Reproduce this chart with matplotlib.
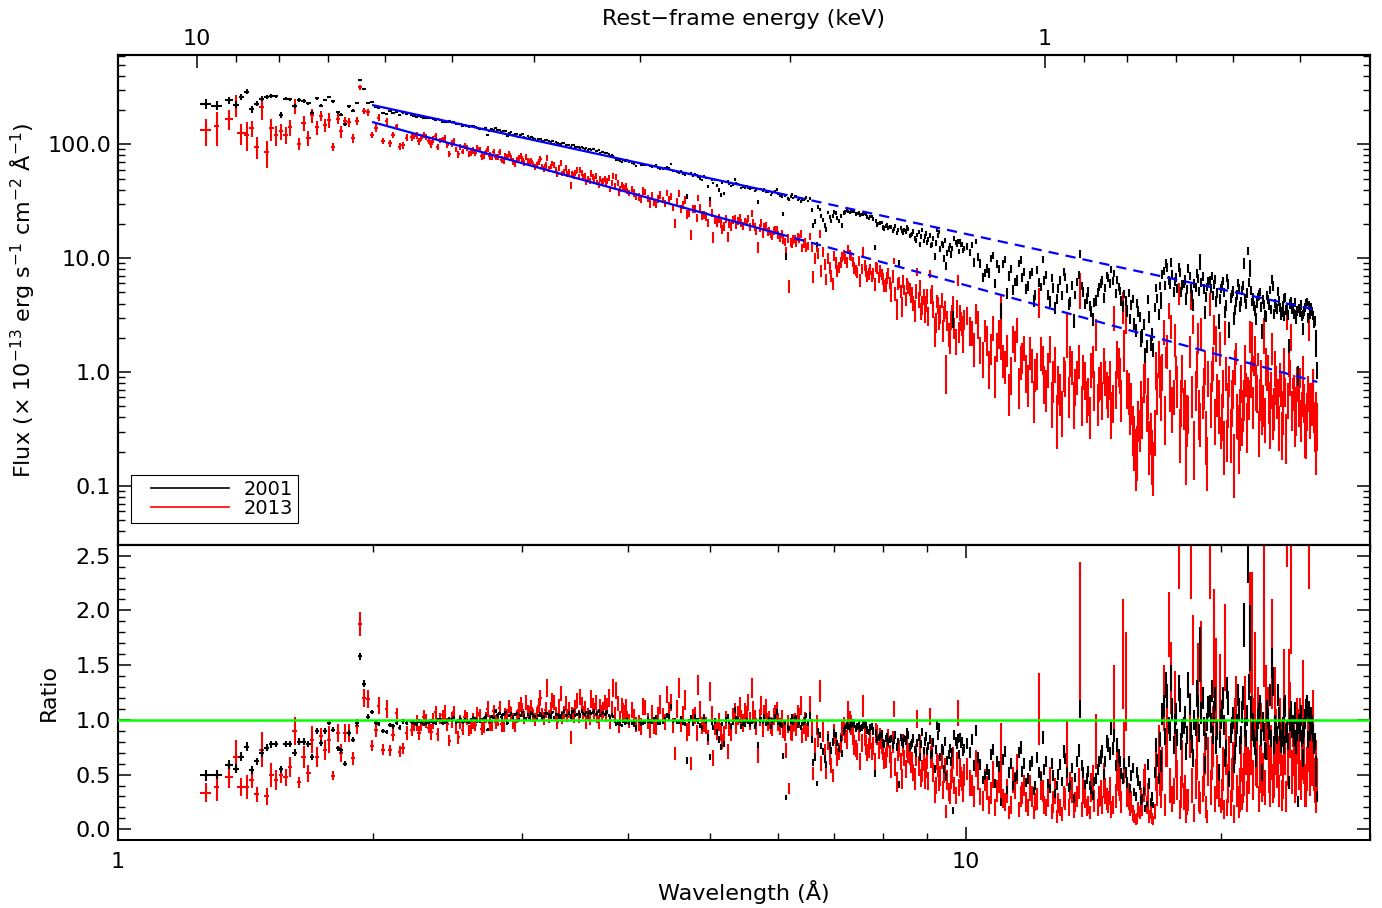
import numpy as np
import matplotlib
matplotlib.use("Agg")
import matplotlib.pyplot as plt
from matplotlib.ticker import (FixedLocator, FixedFormatter, NullFormatter,
                               LogLocator, MultipleLocator, FuncFormatter)
from matplotlib.lines import Line2D
from matplotlib.legend_handler import HandlerLine2D

# ---------------- data ----------------
# wavelength bins (Angstrom), grouped by region
wave_A = [1.269, 1.307, 1.352, 1.378, 1.398, 1.418, 1.438, 1.457, 1.477, 1.497,
          1.516, 1.536, 1.557, 1.577, 1.595, 1.616, 1.635, 1.656, 1.677, 1.695,
          1.717, 1.736, 1.756, 1.775, 1.794, 1.816, 1.834, 1.854, 1.874, 1.894,
          1.913, 1.931, 1.952, 1.974, 1.993, 2.015, 2.030, 2.055, 2.074, 2.093,
          2.112, 2.132, 2.150, 2.170, 2.190]
wave_B1 = [2.22, 2.25, 2.28, 2.31, 2.34, 2.37, 2.40, 2.43, 2.46, 2.49,
           2.52, 2.55, 2.58, 2.61, 2.64, 2.67, 2.70, 2.73, 2.76, 2.79,
           2.82, 2.85, 2.88, 2.91, 2.94, 2.97, 3.00, 3.03, 3.06, 3.09,
           3.12, 3.15, 3.18, 3.21, 3.24, 3.27, 3.30, 3.33, 3.36, 3.39,
           3.42, 3.45, 3.48, 3.51, 3.54, 3.57, 3.60, 3.63, 3.66, 3.69,
           3.72, 3.75, 3.78, 3.81, 3.84, 3.87, 3.90, 3.93, 3.96, 3.99]
wave_B1b = [2.235, 2.265, 2.295, 2.325, 2.355, 2.385, 2.415, 2.445, 2.475, 2.505,
            2.535, 2.565, 2.595, 2.625, 2.655, 2.685, 2.715, 2.745, 2.775, 2.805,
            2.835, 2.865, 2.895, 2.925, 2.955, 2.985, 3.015, 3.045, 3.075, 3.105,
            3.135, 3.165, 3.195, 3.225, 3.255, 3.285, 3.315, 3.345, 3.375, 3.405,
            3.435, 3.465, 3.495, 3.525, 3.555, 3.585, 3.615, 3.645, 3.675, 3.705,
            3.735, 3.765, 3.795, 3.825, 3.855, 3.885, 3.915, 3.945, 3.975, 4.005]
wave_B2 = [4.04, 4.09, 4.14, 4.19, 4.24, 4.29, 4.34, 4.39, 4.44, 4.49,
           4.54, 4.59, 4.64, 4.69, 4.74, 4.79, 4.84, 4.89, 4.94, 4.99,
           5.04, 5.09, 5.14, 5.19, 5.24, 5.29, 5.34, 5.39, 5.44, 5.49,
           5.54, 5.59, 5.64, 5.69, 5.74, 5.79, 5.84, 5.89, 5.94, 5.99,
           6.04, 6.09, 6.14, 6.19, 6.24, 6.29, 6.34, 6.39, 6.44, 6.49]
wave_B2b = [4.065, 4.115, 4.165, 4.215, 4.265, 4.315, 4.365, 4.415, 4.465, 4.515,
            4.565, 4.615, 4.665, 4.715, 4.765, 4.815, 4.865, 4.915, 4.965, 5.015,
            5.065, 5.115, 5.165, 5.215, 5.265, 5.315, 5.365, 5.415, 5.465, 5.515,
            5.565, 5.615, 5.665, 5.715, 5.765, 5.815, 5.865, 5.915, 5.965, 6.015,
            6.065, 6.115, 6.165, 6.215, 6.265, 6.315, 6.365, 6.415, 6.465, 6.515]
wave_C = [6.55, 6.61, 6.67, 6.73, 6.79, 6.85, 6.91, 6.97, 7.03, 7.09,
          7.15, 7.21, 7.27, 7.33, 7.39, 7.45, 7.51, 7.57, 7.63, 7.69,
          7.75, 7.81, 7.87, 7.93, 7.99, 8.05, 8.11, 8.17, 8.23, 8.29,
          8.35, 8.41, 8.47, 8.53, 8.59, 8.65, 8.71, 8.77, 8.83, 8.89,
          8.95, 9.01, 9.07, 9.13, 9.19, 9.25, 9.31, 9.37, 9.43, 9.49,
          9.55, 9.61, 9.67, 9.73, 9.79, 9.85, 9.91, 9.97]
wave_Cb = [6.58, 6.64, 6.70, 6.76, 6.82, 6.88, 6.94, 7.00, 7.06, 7.12,
           7.18, 7.24, 7.30, 7.36, 7.42, 7.48, 7.54, 7.60, 7.66, 7.72,
           7.78, 7.84, 7.90, 7.96, 8.02, 8.08, 8.14, 8.20, 8.26, 8.32,
           8.38, 8.44, 8.50, 8.56, 8.62, 8.68, 8.74, 8.80, 8.86, 8.92,
           8.98, 9.04, 9.10, 9.16, 9.22, 9.28, 9.34, 9.40, 9.46, 9.52,
           9.58, 9.64, 9.70, 9.76, 9.82, 9.88, 9.94]
wave_D = [10.05, 10.17, 10.29, 10.41, 10.53, 10.65, 10.77, 10.89, 11.01, 11.13,
          11.25, 11.37, 11.49, 11.61, 11.73, 11.85, 11.97, 12.09, 12.21, 12.33,
          12.45, 12.57, 12.69, 12.81, 12.93, 13.05, 13.17, 13.29, 13.41, 13.53,
          13.65, 13.77, 13.89, 14.01, 14.13, 14.25, 14.37, 14.49, 14.61, 14.73,
          14.85, 14.97, 15.09, 15.21, 15.33, 15.45, 15.57, 15.69, 15.81, 15.93,
          16.05, 16.17, 16.29, 16.41, 16.53, 16.65, 16.77, 16.89]
wave_Db = [10.11, 10.23, 10.35, 10.47, 10.59, 10.71, 10.83, 10.95, 11.07, 11.19,
           11.31, 11.43, 11.55, 11.67, 11.79, 11.91, 12.03, 12.15, 12.27, 12.39,
           12.51, 12.63, 12.75, 12.87, 12.99, 13.11, 13.23, 13.35, 13.47, 13.59,
           13.71, 13.83, 13.95, 14.07, 14.19, 14.31, 14.43, 14.55, 14.67, 14.79,
           14.91, 15.03, 15.15, 15.27, 15.39, 15.51, 15.63, 15.75, 15.87, 15.99,
           16.11, 16.23, 16.35, 16.47, 16.59, 16.71, 16.83, 16.95]
wave_E = [17.00, 17.12, 17.24, 17.36, 17.48, 17.60, 17.72, 17.84, 17.96, 18.08,
          18.20, 18.32, 18.44, 18.56, 18.68, 18.80, 18.92, 19.04, 19.16, 19.28,
          19.40, 19.52, 19.64, 19.76, 19.88, 20.00, 20.12, 20.24, 20.36, 20.48,
          20.60, 20.72, 20.84, 20.96, 21.08, 21.20, 21.32, 21.44, 21.56, 21.68,
          21.80, 21.92, 22.04, 22.16, 22.28, 22.40, 22.52, 22.64, 22.76, 22.88,
          23.00, 23.12, 23.24, 23.36, 23.48, 23.60, 23.72, 23.84, 23.96, 24.08,
          24.20, 24.32, 24.44, 24.56, 24.68, 24.80, 24.92, 25.04, 25.16, 25.28,
          25.40, 25.52, 25.64, 25.76, 25.88, 26.00]
wave_Eb = [17.06, 17.18, 17.30, 17.42, 17.54, 17.66, 17.78, 17.90, 18.02, 18.14,
           18.26, 18.38, 18.50, 18.62, 18.74, 18.86, 18.98, 19.10, 19.22, 19.34,
           19.46, 19.58, 19.70, 19.82, 19.94, 20.06, 20.18, 20.30, 20.42, 20.54,
           20.66, 20.78, 20.90, 21.02, 21.14, 21.26, 21.38, 21.50, 21.62, 21.74,
           21.86, 21.98, 22.10, 22.22, 22.34, 22.46, 22.58, 22.70, 22.82, 22.94,
           23.06, 23.18, 23.30, 23.42, 23.54, 23.66, 23.78, 23.90, 24.02, 24.14,
           24.26, 24.38, 24.50, 24.62, 24.74, 24.86, 24.98, 25.10, 25.22, 25.34,
           25.46, 25.58, 25.70, 25.82, 25.94]

# data / model ratio, 2001
ratio01_A = [0.495, 0.50, 0.59, 0.555, 0.665, 0.756, 0.54, 0.62, 0.70, 0.745,
             0.775, 0.78, 0.548, 0.78, 0.78, 0.70, 0.80, 0.80, 0.78, 0.66,
             0.90, 0.79, 0.90, 0.975, 0.91, 0.74, 0.72, 0.60, 0.88, 0.82,
             0.97, 1.58, 1.33, 1.03, 1.07, 0.97, 0.96, 0.90, 0.89, 0.955,
             0.94, 0.975, 0.93, 0.985, 0.975]
ratio01_B1 = [0.98, 0.96, 0.98, 0.97, 0.99, 0.97, 1.00, 0.98, 1.01, 1.02,
              0.99, 0.98, 0.99, 1.00, 1.01, 0.99, 1.01, 0.91, 1.03, 1.08,
              1.06, 1.05, 0.97, 1.06, 1.05, 1.00, 1.07, 1.01, 1.02, 1.04,
              1.00, 1.05, 1.03, 1.06, 1.03, 1.02, 1.05, 1.03, 1.08, 1.04,
              1.03, 1.08, 1.05, 1.04, 1.06, 1.07, 1.07, 1.07, 1.05, 1.08,
              1.06, 1.05, 1.07, 1.02, 1.03, 0.96, 0.98, 0.95, 0.97, 1.00]
ratio01_B1b = [0.97, 0.99, 0.96, 0.98, 0.98, 1.00, 0.97, 0.99, 1.00, 0.98,
               1.01, 1.00, 0.98, 1.02, 0.99, 1.00, 1.03, 0.99, 1.02, 1.04,
               1.03, 1.07, 1.04, 1.02, 1.06, 1.04, 1.03, 1.05, 1.06, 1.03,
               1.04, 1.02, 1.06, 1.04, 1.07, 1.05, 1.03, 1.06, 1.04, 1.06,
               1.07, 1.04, 1.06, 1.08, 1.05, 1.04, 1.06, 1.08, 1.06, 1.04,
               1.07, 1.06, 1.04, 1.05, 0.99, 0.97, 0.96, 0.99, 0.98, 0.97]
ratio01_B2 = [0.97, 0.93, 0.97, 0.98, 0.99, 1.01, 0.98, 0.98, 1.04, 1.12,
              1.00, 0.98, 0.98, 0.63, 1.02, 1.03, 0.99, 0.93, 0.98, 0.66,
              0.93, 0.89, 0.75, 0.78, 1.03, 0.94, 1.09, 1.01, 0.94, 0.96,
              0.98, 0.98, 0.94, 0.77, 1.01, 1.03, 0.98, 0.94, 1.00, 1.07,
              0.96, 0.67, 0.29, 0.92, 1.03, 1.01, 0.95, 0.93, 0.98, 1.04]
ratio01_B2b = [0.96, 0.99, 0.97, 1.00, 0.98, 1.02, 0.97, 1.01, 1.03, 0.99,
               0.98, 1.01, 0.96, 0.99, 0.97, 1.00, 0.95, 1.02, 0.84, 0.97,
               0.99, 0.82, 0.96, 1.00, 0.98, 0.97, 1.01, 0.99, 0.97, 1.00,
               0.96, 0.99, 0.97, 1.00, 0.98, 0.97, 1.01, 0.99, 1.03, 0.98,
               0.95, 0.97, 0.93, 0.99, 0.97, 1.02, 0.98, 0.96, 1.00, 0.97]
ratio01_C = [1.04, 0.61, 0.42, 0.86, 0.71, 0.59, 0.77, 0.80, 0.86, 0.74,
             0.69, 0.92, 0.94, 0.96, 0.96, 0.94, 0.92, 0.95, 0.95, 0.89,
             0.94, 0.51, 0.82, 0.85, 0.79, 0.83, 0.80, 0.83, 0.81, 0.75,
             0.41, 0.80, 0.83, 0.89, 0.75, 0.79, 0.73, 0.79, 0.66, 0.89,
             0.80, 0.71, 0.82, 0.70, 0.55, 0.95, 0.93, 0.74, 0.55, 0.48,
             0.68, 0.62, 0.17, 0.80, 0.83, 0.84, 0.80, 0.74]
ratio01_Cb = [0.82, 0.66, 0.90, 0.76, 0.64, 0.84, 0.72, 0.88, 0.79, 0.83,
              0.90, 0.95, 0.93, 0.97, 0.92, 0.95, 0.93, 0.96, 0.91, 0.93,
              0.90, 0.88, 0.84, 0.87, 0.78, 0.85, 0.82, 0.77, 0.86, 0.80,
              0.84, 0.78, 0.81, 0.86, 0.77, 0.83, 0.70, 0.84, 0.78, 0.72,
              0.85, 0.76, 0.68, 0.79, 0.73, 0.86, 0.66, 0.72, 0.80, 0.63,
              0.74, 0.70, 0.86, 0.77, 0.68, 0.79, 0.71]
ratio01_D = [0.78, 0.82, 0.90, 0.59, 0.49, 0.50, 0.73, 0.62, 0.25, 0.71,
             0.52, 0.40, 0.49, 0.75, 0.60, 0.46, 0.62, 0.40, 0.52, 0.84,
             0.62, 0.37, 0.49, 0.40, 0.59, 0.71, 0.52, 0.40, 0.28, 0.62,
             1.10, 0.52, 0.46, 0.40, 0.31, 0.46, 0.62, 0.71, 0.62, 0.77,
             0.92, 0.86, 0.77, 0.62, 0.46, 0.52, 0.62, 0.49, 0.34, 0.52,
             0.40, 0.28, 0.19, 0.59, 0.25, 0.22, 0.77, 0.46]
ratio01_Db = [0.70, 0.58, 0.66, 0.45, 0.55, 0.68, 0.42, 0.57, 0.64, 0.36,
              0.60, 0.47, 0.70, 0.53, 0.43, 0.58, 0.35, 0.66, 0.48, 0.55,
              0.42, 0.60, 0.33, 0.50, 0.44, 0.65, 0.38, 0.56, 0.47, 0.72,
              0.58, 0.41, 0.53, 0.36, 0.44, 0.55, 0.66, 0.50, 0.80, 0.69,
              0.74, 0.58, 0.67, 0.51, 0.60, 0.43, 0.37, 0.56, 0.30, 0.45,
              0.26, 0.35, 0.23, 0.42, 0.30, 0.52, 0.63, 0.82]
ratio01_E = [0.62, 1.13, 1.32, 0.95, 1.38, 0.77, 1.05, 1.29, 0.80, 0.95,
             0.71, 1.32, 0.90, 0.65, 0.93, 1.13, 1.60, 1.20, 0.59, 0.98,
             1.13, 1.26, 1.07, 0.77, 0.52, 1.01, 1.20, 0.65, 1.29, 0.46,
             0.95, 0.59, 0.83, 1.23, 0.77, 1.07, 1.87, 0.83, 2.45, 1.75,
             0.89, 0.83, 0.65, 1.01, 1.13, 0.52, 0.89, 0.71, 1.01, 1.23,
             1.52, 0.77, 0.89, 1.23, 0.89, 0.83, 0.77, 1.13, 0.92, 0.43,
             1.07, 0.95, 0.83, 0.77, 0.25, 0.89, 0.83, 0.65, 1.01, 1.13,
             1.07, 0.89, 0.95, 0.77, 0.59, 0.30]
ratio01_Eb = [1.05, 0.85, 1.22, 0.90, 1.10, 0.96, 0.84, 1.18, 0.92, 1.03,
              0.86, 1.14, 0.78, 1.00, 1.24, 0.88, 1.06, 0.94, 0.80, 1.12,
              0.97, 0.86, 1.19, 0.91, 0.82, 1.08, 0.95, 0.74, 1.15, 0.88,
              1.02, 0.70, 0.96, 1.10, 0.86, 1.20, 0.93, 1.04, 1.30, 1.12,
              0.97, 0.76, 0.90, 1.06, 0.84, 0.98, 0.72, 1.08, 0.91, 0.83,
              1.35, 0.95, 0.86, 1.02, 0.78, 0.94, 1.10, 0.88, 0.80, 1.00,
              0.92, 0.84, 1.06, 0.90, 0.96, 1.04, 0.86, 0.93, 1.09, 0.82,
              0.94, 1.02, 0.88, 0.80, 0.45]

err01_A = [0.05, 0.045, 0.04, 0.04, 0.04, 0.04, 0.035, 0.035, 0.035, 0.03,
           0.03, 0.03, 0.03, 0.03, 0.03, 0.03, 0.03, 0.03, 0.03, 0.025,
           0.025, 0.025, 0.025, 0.025, 0.025, 0.025, 0.025, 0.02, 0.025, 0.025,
           0.025, 0.03, 0.03, 0.02, 0.02, 0.02, 0.02, 0.02, 0.02, 0.02,
           0.02, 0.02, 0.02, 0.02, 0.02]
err01_B1 = [0.015, 0.02, 0.015, 0.015, 0.02, 0.015, 0.015, 0.02, 0.015, 0.015,
            0.02, 0.015, 0.015, 0.02, 0.015, 0.015, 0.02, 0.015, 0.015, 0.02,
            0.015, 0.015, 0.02, 0.015, 0.015, 0.02, 0.015, 0.015, 0.02, 0.015,
            0.015, 0.02, 0.015, 0.015, 0.02, 0.015, 0.015, 0.02, 0.015, 0.015,
            0.02, 0.015, 0.015, 0.02, 0.015, 0.015, 0.02, 0.015, 0.015, 0.02,
            0.015, 0.015, 0.02, 0.015, 0.015, 0.02, 0.015, 0.015, 0.02, 0.015]
err01_B1b = [0.02, 0.015, 0.015, 0.02, 0.015, 0.02, 0.015, 0.015, 0.02, 0.015,
             0.015, 0.02, 0.015, 0.015, 0.02, 0.015, 0.02, 0.015, 0.015, 0.02,
             0.02, 0.015, 0.015, 0.02, 0.015, 0.015, 0.02, 0.015, 0.02, 0.015,
             0.015, 0.02, 0.015, 0.02, 0.015, 0.015, 0.02, 0.015, 0.015, 0.02,
             0.02, 0.015, 0.02, 0.015, 0.015, 0.02, 0.015, 0.015, 0.02, 0.015,
             0.015, 0.02, 0.015, 0.015, 0.02, 0.015, 0.02, 0.015, 0.015, 0.02]
err01_B2 = [0.02, 0.02, 0.025, 0.02, 0.02, 0.02, 0.025, 0.02, 0.02, 0.025,
            0.02, 0.02, 0.025, 0.03, 0.02, 0.02, 0.025, 0.02, 0.02, 0.03,
            0.02, 0.025, 0.025, 0.025, 0.02, 0.02, 0.025, 0.02, 0.02, 0.025,
            0.02, 0.02, 0.025, 0.03, 0.02, 0.02, 0.025, 0.02, 0.02, 0.025,
            0.025, 0.03, 0.02, 0.025, 0.025, 0.025, 0.025, 0.025, 0.025, 0.025]
err01_B2b = [0.025, 0.02, 0.02, 0.025, 0.02, 0.025, 0.02, 0.02, 0.025, 0.02,
             0.02, 0.025, 0.02, 0.02, 0.025, 0.02, 0.025, 0.02, 0.03, 0.02,
             0.025, 0.03, 0.02, 0.025, 0.02, 0.02, 0.025, 0.02, 0.025, 0.02,
             0.025, 0.02, 0.02, 0.025, 0.02, 0.025, 0.02, 0.025, 0.02, 0.025,
             0.025, 0.02, 0.025, 0.025, 0.02, 0.025, 0.025, 0.02, 0.025, 0.025]
err01_C = [0.03, 0.03, 0.025, 0.03, 0.03, 0.03, 0.03, 0.035, 0.03, 0.03,
           0.03, 0.035, 0.03, 0.03, 0.035, 0.03, 0.03, 0.035, 0.03, 0.03,
           0.035, 0.03, 0.035, 0.035, 0.035, 0.035, 0.035, 0.035, 0.03, 0.035,
           0.03, 0.035, 0.035, 0.035, 0.035, 0.035, 0.035, 0.035, 0.035, 0.035,
           0.04, 0.035, 0.04, 0.035, 0.04, 0.04, 0.04, 0.04, 0.04, 0.04,
           0.04, 0.04, 0.03, 0.04, 0.04, 0.04, 0.04, 0.04]
err01_Cb = [0.03, 0.035, 0.03, 0.03, 0.035, 0.03, 0.03, 0.035, 0.03, 0.03,
            0.035, 0.03, 0.03, 0.035, 0.03, 0.035, 0.03, 0.03, 0.035, 0.03,
            0.035, 0.035, 0.03, 0.035, 0.035, 0.03, 0.035, 0.035, 0.035, 0.03,
            0.035, 0.035, 0.04, 0.035, 0.035, 0.04, 0.035, 0.035, 0.04, 0.035,
            0.04, 0.04, 0.035, 0.04, 0.04, 0.04, 0.035, 0.04, 0.04, 0.04,
            0.04, 0.04, 0.045, 0.04, 0.04, 0.045, 0.04]
err01_D = [0.05, 0.05, 0.05, 0.05, 0.04, 0.05, 0.05, 0.05, 0.04, 0.05,
           0.05, 0.04, 0.05, 0.06, 0.05, 0.05, 0.05, 0.04, 0.05, 0.06,
           0.05, 0.04, 0.05, 0.04, 0.05, 0.06, 0.05, 0.04, 0.04, 0.05,
           0.08, 0.05, 0.05, 0.04, 0.04, 0.05, 0.05, 0.06, 0.05, 0.06,
           0.06, 0.06, 0.06, 0.05, 0.05, 0.05, 0.05, 0.05, 0.04, 0.05,
           0.04, 0.04, 0.03, 0.05, 0.04, 0.03, 0.06, 0.05]
err01_Db = [0.05, 0.05, 0.05, 0.04, 0.05, 0.05, 0.04, 0.05, 0.05, 0.04,
            0.05, 0.04, 0.05, 0.05, 0.04, 0.05, 0.04, 0.05, 0.04, 0.05,
            0.04, 0.05, 0.04, 0.05, 0.04, 0.05, 0.04, 0.05, 0.04, 0.06,
            0.05, 0.04, 0.05, 0.04, 0.04, 0.05, 0.06, 0.05, 0.06, 0.06,
            0.06, 0.05, 0.06, 0.05, 0.05, 0.05, 0.04, 0.05, 0.04, 0.05,
            0.04, 0.04, 0.03, 0.05, 0.04, 0.05, 0.06, 0.07]
err01_E = [0.10, 0.10, 0.12, 0.08, 0.12, 0.08, 0.10, 0.12, 0.08, 0.08,
           0.08, 0.12, 0.08, 0.08, 0.08, 0.10, 0.25, 0.10, 0.08, 0.08,
           0.10, 0.10, 0.10, 0.08, 0.08, 0.09, 0.10, 0.08, 0.10, 0.07,
           0.08, 0.08, 0.08, 0.10, 0.08, 0.10, 0.20, 0.08, 0.20, 0.30,
           0.08, 0.08, 0.08, 0.09, 0.10, 0.08, 0.08, 0.08, 0.09, 0.10,
           0.14, 0.08, 0.08, 0.10, 0.08, 0.08, 0.08, 0.10, 0.08, 0.06,
           0.10, 0.09, 0.08, 0.08, 0.05, 0.08, 0.08, 0.08, 0.09, 0.10,
           0.10, 0.08, 0.09, 0.08, 0.08, 0.05]
err01_Eb = [0.10, 0.08, 0.11, 0.09, 0.10, 0.09, 0.08, 0.11, 0.09, 0.10,
            0.08, 0.10, 0.08, 0.09, 0.12, 0.08, 0.10, 0.09, 0.08, 0.10,
            0.09, 0.08, 0.11, 0.09, 0.08, 0.10, 0.09, 0.08, 0.11, 0.09,
            0.10, 0.07, 0.09, 0.10, 0.08, 0.11, 0.09, 0.10, 0.12, 0.10,
            0.09, 0.08, 0.09, 0.10, 0.08, 0.09, 0.08, 0.10, 0.09, 0.08,
            0.13, 0.09, 0.08, 0.10, 0.08, 0.09, 0.10, 0.09, 0.08, 0.10,
            0.09, 0.08, 0.10, 0.09, 0.09, 0.10, 0.08, 0.09, 0.10, 0.08,
            0.09, 0.10, 0.08, 0.08, 0.06]

# data / model ratio, 2013
ratio13_A = [0.335, 0.39, 0.48, 0.664, 0.385, 0.385, 0.45, 0.32, 0.725, 0.30,
             0.50, 0.45, 0.50, 0.475, 0.57, 0.90, 0.43, 0.664, 0.51, 0.82,
             0.66, 0.85, 0.725, 0.82, 0.49, 0.88, 0.695, 0.88, 0.88, 0.65,
             0.94, 1.88, 1.20, 1.19, 0.765, 0.91, 1.13, 0.725, 1.10, 0.72,
             0.865, 1.06, 0.71, 0.74, 0.88]
ratio13_B1 = [0.91, 0.97, 0.95, 0.99, 0.89, 1.07, 1.01, 1.07, 0.81, 1.07,
              0.84, 0.91, 1.01, 0.94, 0.95, 1.04, 0.94, 1.10, 0.95, 0.98,
              1.11, 0.94, 1.04, 1.06, 0.95, 1.09, 1.09, 1.16, 1.07, 1.04,
              1.06, 1.20, 1.01, 1.29, 1.10, 1.16, 0.98, 1.24, 1.07, 1.04,
              0.84, 1.04, 1.18, 1.21, 1.07, 0.98, 1.01, 1.13, 1.16, 0.98,
              1.07, 1.16, 1.13, 0.98, 1.29, 1.27, 0.94, 1.13, 1.07, 1.02]
ratio13_B1b = [0.95, 0.88, 1.03, 0.93, 0.99, 0.87, 1.04, 0.96, 1.00, 0.92,
               0.98, 1.03, 0.90, 0.99, 1.06, 0.92, 1.02, 0.97, 1.08, 1.00,
               0.96, 1.05, 1.12, 0.99, 1.03, 1.14, 1.02, 1.08, 1.11, 1.00,
               1.13, 1.05, 1.09, 1.03, 1.18, 1.06, 1.12, 1.02, 1.15, 1.09,
               1.06, 1.11, 1.03, 1.14, 1.10, 1.05, 1.19, 1.08, 1.03, 1.12,
               1.09, 1.04, 1.20, 1.10, 1.06, 1.15, 1.02, 1.08, 1.12, 0.99]
ratio13_B2 = [1.09, 0.96, 0.94, 1.11, 0.91, 0.94, 1.04, 1.04, 1.23, 1.16,
              0.69, 1.29, 1.05, 0.89, 0.60, 1.04, 1.32, 0.95, 0.95, 1.26,
              0.65, 0.90, 0.89, 0.86, 0.71, 0.89, 1.07, 1.04, 1.01, 1.07,
              1.16, 1.29, 1.01, 0.68, 1.13, 1.06, 0.98, 0.95, 1.03, 1.07,
              0.94, 0.91, 0.72, 0.37, 0.89, 0.98, 1.05, 1.13, 0.95, 0.89]
ratio13_B2b = [1.02, 0.97, 1.12, 0.99, 1.06, 0.93, 1.14, 0.98, 1.08, 0.95,
               1.10, 0.96, 1.18, 0.92, 1.02, 0.88, 1.09, 0.97, 0.84, 1.05,
               0.93, 0.98, 0.80, 1.00, 0.92, 1.03, 0.95, 1.12, 0.97, 1.05,
               0.99, 1.08, 0.94, 1.02, 0.91, 1.10, 1.00, 0.93, 1.06, 0.98,
               1.01, 0.88, 0.96, 0.90, 0.97, 0.93, 1.02, 0.86, 0.99, 0.92]
ratio13_C = [1.13, 0.51, 0.95, 1.26, 0.89, 0.52, 0.67, 0.49, 0.77, 0.71,
             0.90, 0.88, 1.07, 0.95, 0.77, 0.71, 0.62, 1.13, 0.77, 0.74,
             0.71, 0.62, 0.86, 0.83, 0.72, 0.65, 0.83, 0.59, 1.10, 0.43,
             0.74, 0.46, 0.65, 0.74, 0.68, 0.62, 0.46, 1.01, 0.74, 0.53,
             0.46, 0.65, 1.03, 0.71, 0.34, 0.62, 0.44, 0.65, 0.50, 0.16,
             0.34, 0.46, 0.65, 0.31, 1.06, 0.56, 0.44, 0.50]
ratio13_Cb = [0.92, 0.75, 0.84, 0.60, 0.70, 0.81, 0.58, 0.87, 0.66, 0.79,
              0.94, 0.82, 0.98, 0.86, 0.74, 0.90, 0.79, 0.85, 0.70, 0.82,
              0.76, 0.88, 0.72, 0.78, 0.63, 0.75, 0.69, 0.80, 0.57, 0.71,
              0.62, 0.77, 0.55, 0.70, 0.60, 0.52, 0.68, 0.58, 0.47, 0.63,
              0.56, 0.44, 0.66, 0.52, 0.40, 0.58, 0.49, 0.36, 0.55, 0.45,
              0.30, 0.52, 0.40, 0.60, 0.38, 0.48, 0.33]
ratio13_D = [0.55, 0.40, 0.60, 0.30, 0.45, 0.22, 0.50, 0.35, 0.62, 0.25,
             0.15, 0.45, 0.55, 0.30, 0.40, 0.20, 0.30, 0.25, 1.10, 0.35,
             0.20, 0.45, 0.25, 0.12, 0.20, 0.30, 0.70, 0.40, 0.18, 0.30,
             1.80, 0.35, 0.20, 0.15, 0.45, 0.80, 0.30, 0.22, 0.35, 0.25,
             0.18, 1.20, 0.55, 0.40, 1.60, 1.35, 0.30, 0.25, 0.12, 0.10,
             0.15, 0.20, 0.45, 0.30, 0.15, 0.08, 0.55, 0.70]
ratio13_Db = [0.42, 0.30, 0.50, 0.26, 0.38, 0.33, 0.20, 0.46, 0.28, 0.35,
              0.22, 0.40, 0.18, 0.33, 0.25, 0.38, 0.15, 0.28, 0.40, 0.22,
              0.30, 0.16, 0.35, 0.24, 0.14, 0.28, 0.20, 0.36, 0.25, 0.42,
              0.18, 0.30, 0.22, 0.38, 0.26, 0.20, 0.33, 0.45, 0.28, 0.35,
              0.22, 0.30, 0.48, 0.25, 0.70, 0.32, 0.20, 0.15, 0.09, 0.18,
              0.28, 0.40, 0.22, 0.12, 0.10, 0.16, 0.35, 0.50]
ratio13_E = [0.34, 1.20, 0.72, 1.87, 1.38, 0.35, 0.62, 2.80, 0.34, 0.30,
             0.16, 0.27, 2.60, 1.64, 0.46, 1.30, 0.24, 0.37, 0.75, 0.12,
             2.70, 0.65, 1.70, 1.30, 0.40, 0.22, 0.55, 1.66, 0.20, 0.65,
             0.45, 0.14, 1.15, 0.30, 0.36, 0.25, 0.50, 0.65, 0.55, 1.80,
             1.60, 1.00, 0.70, 1.15, 0.55, 0.45, 2.00, 1.10, 1.00, 0.35,
             1.60, 0.49, 0.80, 0.65, 0.90, 0.31, 1.20, 0.70, 2.90, 1.30,
             2.20, 0.85, 0.60, 0.45, 0.85, 1.00, 0.60, 0.70, 0.40, 0.55,
             2.95, 0.80, 0.60, 0.50, 0.30, 0.45]
ratio13_Eb = [0.55, 0.22, 0.85, 0.40, 0.28, 1.10, 0.45, 0.18, 0.60, 0.35,
              0.25, 0.95, 0.40, 0.15, 0.70, 0.30, 1.45, 0.50, 0.20, 0.62,
              0.38, 0.85, 0.28, 0.48, 1.20, 0.32, 0.18, 0.75, 0.42, 0.24,
              0.58, 0.90, 0.35, 0.20, 0.68, 0.40, 1.05, 0.30, 0.52, 0.78,
              0.45, 1.35, 0.60, 0.28, 0.85, 0.50, 0.38, 0.95, 0.55, 0.70,
              0.42, 1.10, 0.60, 0.35, 0.75, 0.48, 0.88, 0.30, 0.62, 1.00,
              0.52, 0.75, 0.40, 0.90, 0.58, 0.45, 1.15, 0.65, 0.35, 0.80,
              0.50, 0.70, 0.95, 0.42, 0.60]

err13_A = [0.09, 0.13, 0.10, 0.15, 0.08, 0.11, 0.07, 0.07, 0.16, 0.08,
           0.11, 0.09, 0.08, 0.08, 0.09, 0.13, 0.05, 0.10, 0.08, 0.12,
           0.09, 0.08, 0.09, 0.12, 0.04, 0.08, 0.08, 0.08, 0.08, 0.06,
           0.07, 0.11, 0.08, 0.08, 0.05, 0.07, 0.08, 0.05, 0.08, 0.05,
           0.06, 0.05, 0.05, 0.05, 0.06]
err13_B1 = [0.06, 0.07, 0.05, 0.06, 0.07, 0.06, 0.05, 0.07, 0.05, 0.06,
            0.06, 0.05, 0.06, 0.07, 0.05, 0.06, 0.06, 0.07, 0.05, 0.06,
            0.06, 0.05, 0.06, 0.06, 0.06, 0.07, 0.06, 0.07, 0.06, 0.06,
            0.06, 0.07, 0.06, 0.08, 0.06, 0.07, 0.06, 0.07, 0.06, 0.06,
            0.06, 0.07, 0.07, 0.07, 0.06, 0.06, 0.06, 0.07, 0.07, 0.06,
            0.07, 0.07, 0.07, 0.06, 0.08, 0.08, 0.06, 0.07, 0.07, 0.06]
err13_B1b = [0.05, 0.06, 0.06, 0.05, 0.07, 0.06, 0.05, 0.06, 0.07, 0.05,
             0.06, 0.06, 0.05, 0.07, 0.06, 0.06, 0.05, 0.07, 0.06, 0.06,
             0.07, 0.06, 0.06, 0.07, 0.06, 0.07, 0.06, 0.06, 0.07, 0.06,
             0.07, 0.06, 0.07, 0.06, 0.07, 0.06, 0.07, 0.06, 0.07, 0.07,
             0.06, 0.07, 0.06, 0.07, 0.07, 0.06, 0.08, 0.07, 0.06, 0.07,
             0.07, 0.06, 0.08, 0.07, 0.06, 0.07, 0.06, 0.07, 0.07, 0.06]
err13_B2 = [0.07, 0.07, 0.08, 0.07, 0.08, 0.07, 0.08, 0.07, 0.08, 0.08,
            0.06, 0.09, 0.08, 0.08, 0.06, 0.08, 0.09, 0.08, 0.08, 0.09,
            0.07, 0.08, 0.08, 0.08, 0.07, 0.08, 0.08, 0.09, 0.08, 0.08,
            0.08, 0.09, 0.08, 0.07, 0.09, 0.08, 0.08, 0.08, 0.08, 0.09,
            0.08, 0.08, 0.07, 0.05, 0.08, 0.08, 0.09, 0.09, 0.08, 0.08]
err13_B2b = [0.08, 0.07, 0.08, 0.07, 0.08, 0.07, 0.09, 0.07, 0.08, 0.07,
             0.08, 0.07, 0.09, 0.07, 0.08, 0.07, 0.08, 0.08, 0.07, 0.08,
             0.07, 0.08, 0.07, 0.08, 0.07, 0.08, 0.08, 0.09, 0.08, 0.08,
             0.08, 0.09, 0.08, 0.08, 0.07, 0.09, 0.08, 0.08, 0.08, 0.08,
             0.08, 0.07, 0.08, 0.08, 0.08, 0.08, 0.09, 0.07, 0.08, 0.08]
err13_C = [0.09, 0.06, 0.09, 0.10, 0.09, 0.06, 0.08, 0.06, 0.09, 0.08,
           0.09, 0.09, 0.10, 0.09, 0.09, 0.08, 0.08, 0.10, 0.09, 0.09,
           0.08, 0.08, 0.09, 0.10, 0.09, 0.09, 0.09, 0.12, 0.07, 0.09,
           0.08, 0.09, 0.07, 0.09, 0.09, 0.09, 0.10, 0.08, 0.12, 0.10,
           0.09, 0.10, 0.08, 0.12, 0.10, 0.08, 0.09, 0.10, 0.08, 0.06,
           0.08, 0.09, 0.10, 0.08, 0.12, 0.09, 0.09, 0.10]
err13_Cb = [0.09, 0.08, 0.09, 0.07, 0.08, 0.09, 0.07, 0.09, 0.08, 0.09,
            0.09, 0.09, 0.10, 0.09, 0.08, 0.09, 0.08, 0.09, 0.08, 0.09,
            0.08, 0.09, 0.08, 0.09, 0.08, 0.09, 0.08, 0.10, 0.08, 0.09,
            0.08, 0.10, 0.08, 0.09, 0.09, 0.08, 0.10, 0.09, 0.08, 0.10,
            0.09, 0.08, 0.10, 0.09, 0.08, 0.10, 0.09, 0.08, 0.10, 0.09,
            0.07, 0.10, 0.08, 0.11, 0.08, 0.09, 0.08]
err13_D = [0.10, 0.10, 0.12, 0.08, 0.10, 0.08, 0.12, 0.10, 0.35, 0.08,
           0.06, 0.12, 0.14, 0.10, 0.10, 0.08, 0.10, 0.08, 0.33, 0.10,
           0.08, 0.12, 0.10, 0.06, 0.08, 0.10, 0.30, 0.12, 0.08, 0.10,
           0.64, 0.12, 0.08, 0.06, 0.14, 0.25, 0.10, 0.08, 0.12, 0.10,
           0.08, 0.30, 0.20, 0.14, 0.50, 0.45, 0.12, 0.10, 0.06, 0.05,
           0.06, 0.08, 0.15, 0.12, 0.06, 0.04, 0.20, 0.25]
err13_Db = [0.12, 0.10, 0.14, 0.09, 0.11, 0.10, 0.08, 0.13, 0.09, 0.11,
            0.08, 0.12, 0.07, 0.10, 0.09, 0.12, 0.06, 0.10, 0.13, 0.08,
            0.10, 0.07, 0.12, 0.09, 0.06, 0.10, 0.08, 0.12, 0.09, 0.14,
            0.07, 0.11, 0.08, 0.13, 0.10, 0.08, 0.12, 0.16, 0.10, 0.13,
            0.08, 0.11, 0.18, 0.10, 0.28, 0.12, 0.08, 0.07, 0.05, 0.07,
            0.10, 0.15, 0.08, 0.06, 0.05, 0.07, 0.14, 0.20]
err13_E = [0.15, 0.30, 0.15, 0.30, 0.33, 0.12, 0.15, 0.60, 0.15, 0.12,
           0.10, 0.10, 0.50, 0.32, 0.18, 0.40, 0.10, 0.12, 0.25, 0.06,
           0.60, 0.20, 0.50, 0.45, 0.20, 0.07, 0.20, 0.40, 0.08, 0.20,
           0.20, 0.08, 0.25, 0.10, 0.20, 0.07, 0.20, 0.15, 0.20, 0.55,
           0.75, 0.20, 0.30, 0.15, 0.22, 0.20, 0.70, 0.40, 0.30, 0.15,
           0.50, 0.20, 0.30, 0.20, 0.30, 0.14, 0.45, 0.20, 0.50, 0.35,
           0.60, 0.10, 0.20, 0.15, 0.25, 0.20, 0.15, 0.12, 0.20, 0.20,
           0.75, 0.15, 0.20, 0.15, 0.15, 0.20]
err13_Eb = [0.20, 0.10, 0.28, 0.16, 0.12, 0.35, 0.18, 0.09, 0.22, 0.15,
            0.12, 0.30, 0.16, 0.08, 0.25, 0.14, 0.45, 0.20, 0.10, 0.22,
            0.16, 0.28, 0.12, 0.20, 0.40, 0.14, 0.09, 0.25, 0.18, 0.12,
            0.22, 0.30, 0.15, 0.10, 0.25, 0.16, 0.35, 0.14, 0.20, 0.28,
            0.18, 0.45, 0.22, 0.12, 0.30, 0.20, 0.16, 0.32, 0.22, 0.25,
            0.18, 0.38, 0.22, 0.15, 0.26, 0.20, 0.30, 0.14, 0.22, 0.35,
            0.20, 0.26, 0.16, 0.30, 0.22, 0.18, 0.40, 0.24, 0.15, 0.28,
            0.20, 0.25, 0.32, 0.18, 0.22]

# half widths of the wide first bins (Angstrom); other bins are narrow
xhalf01_first = [0.019, 0.019, 0.014]
xhalf13_first = [0.019, 0.010, 0.014, 0.010, 0.016]
bin_half = 0.01

# power-law continuum models (x 1e-13 erg/s/cm2/A), solid 2-6 A, dashed beyond
model_wave = [2.0, 6.0, 26.0]
model_2001 = [220.0, 37.3, 3.5]
model_2013 = [156.0, 16.5, 0.82]

# top-axis energies (keV)
hc = 12.398
energy_major = [10, 1]
energy_minor = [9, 8, 7, 6, 5, 4, 3, 2, 0.9, 0.8, 0.7, 0.6, 0.5]

# ---------------- assemble ----------------
wave = np.concatenate([wave_A, wave_B1, wave_B1b, wave_B2, wave_B2b, wave_C,
                       wave_Cb, wave_D, wave_Db, wave_E, wave_Eb])
r01 = np.concatenate([ratio01_A, ratio01_B1, ratio01_B1b, ratio01_B2, ratio01_B2b,
                      ratio01_C, ratio01_Cb, ratio01_D, ratio01_Db, ratio01_E,
                      ratio01_Eb])
e01 = np.concatenate([err01_A, err01_B1, err01_B1b, err01_B2, err01_B2b, err01_C,
                      err01_Cb, err01_D, err01_Db, err01_E, err01_Eb])
r13 = np.concatenate([ratio13_A, ratio13_B1, ratio13_B1b, ratio13_B2, ratio13_B2b,
                      ratio13_C, ratio13_Cb, ratio13_D, ratio13_Db, ratio13_E,
                      ratio13_Eb])
e13 = np.concatenate([err13_A, err13_B1, err13_B1b, err13_B2, err13_B2b, err13_C,
                      err13_Cb, err13_D, err13_Db, err13_E, err13_Eb])

xh01 = np.full(wave.size, bin_half); xh01[:len(xhalf01_first)] = xhalf01_first
xh13 = np.full(wave.size, bin_half); xh13[:len(xhalf13_first)] = xhalf13_first


def powerlaw(w, mw, mf):
    slope = np.log(mf[-1] / mf[0]) / np.log(mw[-1] / mw[0])
    return mf[0] * (np.asarray(w) / mw[0]) ** slope


m01 = powerlaw(wave, model_wave, model_2001)
m13 = powerlaw(wave, model_wave, model_2013)
f01, fe01 = r01 * m01, e01 * m01
f13, fe13 = r13 * m13, e13 * m13
lo01 = np.minimum(fe01, 0.95 * f01)
lo13 = np.minimum(fe13, 0.95 * f13)

# ---------------- figure ----------------
plt.rcParams['font.family'] = ['DejaVu Sans']
plt.rcParams['mathtext.fontset'] = 'dejavusans'
FS = 16

fig = plt.figure(figsize=(13.82, 9.08), dpi=100)
L, W = 118 / 1382, 1252 / 1382
ax1 = fig.add_axes([L, 1 - 545 / 908, W, 490 / 908])
ax2 = fig.add_axes([L, 1 - 840 / 908, W, 295 / 908])

RED, BLACK, BLUE, GREEN = '#ff0000', '#000000', '#0000ff', '#00ff00'
ELW = 1.5

# top panel
ax1.errorbar(wave, f13, yerr=[lo13, fe13], xerr=xh13, fmt='none',
             ecolor=RED, elinewidth=ELW, capsize=0, zorder=2)
ax1.errorbar(wave, f01, yerr=[lo01, fe01], xerr=xh01, fmt='none',
             ecolor=BLACK, elinewidth=ELW, capsize=0, zorder=3)
for mf in (model_2001, model_2013):
    ax1.plot(model_wave[:2], mf[:2], color=BLUE, lw=1.6, zorder=4)
    ax1.plot(model_wave[1:], mf[1:], color=BLUE, lw=1.6, zorder=4,
             linestyle=(0, (4.6, 3.2)))

ax1.set_xscale('log')
ax1.set_yscale('log')
ax1.set_xlim(1, 30)
ax1.set_ylim(0.0304, 607)
ax1.yaxis.set_major_locator(LogLocator(base=10))
ax1.yaxis.set_minor_locator(LogLocator(base=10, subs=np.arange(2, 10)))
ax1.yaxis.set_major_formatter(FuncFormatter(lambda v, p: '%.1f' % v))
ax1.yaxis.set_minor_formatter(NullFormatter())
ax1.tick_params(axis='x', which='both', bottom=False, top=False,
                labelbottom=False, labeltop=False)
ax1.tick_params(axis='y', which='both', direction='in', left=True, right=True,
                labelsize=FS, pad=5)
ax1.tick_params(axis='y', which='major', length=9.5, width=1.1)
ax1.tick_params(axis='y', which='minor', length=5, width=1.0)
ax1.set_ylabel('Flux (\u00d7 10$^{-13}$ erg s$^{-1}$ cm$^{-2}$ \u00c5$^{-1}$)',
               fontsize=FS)
ax1.yaxis.set_label_coords(-0.065, 0.5)

# energy axis on top
axe = ax1.twiny()
axe.set_xscale('log')
axe.set_xlim(1, 30)
axe.xaxis.set_major_locator(FixedLocator(hc / np.array(energy_major, float)))
axe.xaxis.set_major_formatter(FixedFormatter([str(e) for e in energy_major]))
axe.xaxis.set_minor_locator(FixedLocator(hc / np.array(energy_minor, float)))
axe.xaxis.set_minor_formatter(NullFormatter())
axe.tick_params(axis='x', which='both', direction='in', top=True, bottom=False,
                labelsize=FS, pad=4)
axe.tick_params(axis='x', which='major', length=9.5, width=1.1)
axe.tick_params(axis='x', which='minor', length=5, width=1.0)
axe.set_xlabel('Rest\u2212frame energy (keV)', fontsize=FS)
axe.xaxis.set_label_coords(0.5, 1.062)

handles = [Line2D([], [], color=BLACK, lw=1.2), Line2D([], [], color=RED, lw=1.2)]
leg = ax1.legend(handles, ['2001', '2013'], loc='lower left',
                 bbox_to_anchor=(0.0104, 0.0449), borderaxespad=0,
                 frameon=True, fancybox=False, framealpha=1, edgecolor=BLACK,
                 fontsize=14, handlelength=4.8, handletextpad=0.75,
                 labelspacing=0.0, borderpad=0.25,
                 handler_map={Line2D: HandlerLine2D(xpad=0.8)})
leg.get_frame().set_linewidth(0.8)

# bottom panel
ax2.errorbar(wave, r13, yerr=e13, xerr=xh13, fmt='none',
             ecolor=RED, elinewidth=ELW, capsize=0, zorder=2)
ax2.errorbar(wave, r01, yerr=e01, xerr=xh01, fmt='none',
             ecolor=BLACK, elinewidth=ELW, capsize=0, zorder=3)
ax2.axhline(1.0, color=GREEN, lw=1.8, zorder=4)

ax2.set_xscale('log')
ax2.set_xlim(1, 30)
ax2.set_ylim(-0.098, 2.598)
ax2.xaxis.set_major_locator(FixedLocator([1, 10]))
ax2.xaxis.set_major_formatter(FuncFormatter(lambda v, p: '%g' % v))
ax2.xaxis.set_minor_locator(LogLocator(base=10, subs=np.arange(2, 10)))
ax2.xaxis.set_minor_formatter(NullFormatter())
ax2.yaxis.set_major_locator(MultipleLocator(0.5))
ax2.yaxis.set_minor_locator(MultipleLocator(0.1))
ax2.yaxis.set_major_formatter(FuncFormatter(lambda v, p: '%.1f' % v))
ax2.tick_params(which='both', direction='in', top=True, right=True,
                bottom=True, left=True, labelsize=FS)
ax2.tick_params(axis='x', which='both', pad=9)
ax2.tick_params(axis='y', which='both', pad=5)
ax2.tick_params(which='major', length=9.5, width=1.1)
ax2.tick_params(which='minor', length=5, width=1.0)
ax2.set_xlabel('Wavelength (\u00c5)', fontsize=FS)
ax2.xaxis.set_label_coords(0.5, -0.135)
ax2.set_ylabel('Ratio', fontsize=FS)
ax2.yaxis.set_label_coords(-0.047, 0.5)

for ax in (ax1, ax2, axe):
    for s in ax.spines.values():
        s.set_linewidth(1.5)

fig.savefig('out.png', dpi=100)
